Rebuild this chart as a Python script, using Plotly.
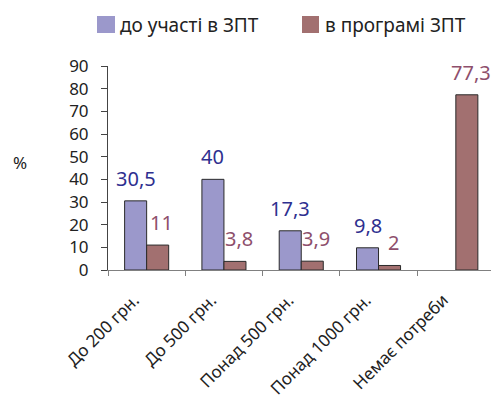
import plotly.graph_objects as go

# Categories and series values
categories = ["До 200 грн.", "До 500 грн.", "Понад 500 грн.", "Понад 1000 грн.", "Немає потреби"]
before_values = [30.5, 40, 17.3, 9.8, None]
during_values = [11, 3.8, 3.9, 2, 77.3]
series_names = ["до участі в ЗПТ", "в програмі ЗПТ"]

FONT = "Noto Sans"
W, H = 491, 396
ML, MR, MT, MB = 108, 0, 66, 126
BAR_FILL = ["#9B98CB", "#A27070"]
LABEL_COLOR = ["#2E2F8F", "#8E4F6C"]
LABEL_XSHIFT = [0, 4]
BARGAP = 0.43


def fmt(v):
    return f"{v:g}".replace(".", ",")


def px_x(px):
    return (px - ML) / (W - ML - MR)


def px_y(py):
    return (H - MB - py) / (H - MT - MB)


fig = go.Figure()
for vals, name, col in zip([before_values, during_values], series_names, BAR_FILL):
    fig.add_trace(go.Bar(
        x=categories, y=vals, name=name, showlegend=False,
        marker=dict(color=col, line=dict(color="#2a2a2a", width=1)),
    ))

# value labels above each bar
half = (1 - BARGAP) / 4
annotations = []
for k, vals in enumerate([before_values, during_values]):
    off = -half if k == 0 else half
    for i, v in enumerate(vals):
        if v is None:
            continue
        annotations.append(dict(
            x=i + off, y=v, xref="x", yref="y", text=fmt(v), showarrow=False,
            yanchor="bottom", xanchor="center", yshift=7, xshift=LABEL_XSHIFT[k],
            font=dict(family=FONT, size=20, color=LABEL_COLOR[k]),
        ))

# axis title "%"
annotations.append(dict(
    x=px_x(20), y=px_y(162), xref="paper", yref="paper", text="%", showarrow=False,
    xanchor="center", yanchor="middle", font=dict(family=FONT, size=17, color="#222"),
))

# legend drawn as swatches with text
shapes = []
legend_items = [(97, 115, 118), (302, 319, 323)]
for (sx0, sx1, tx), name, col in zip(legend_items, series_names, BAR_FILL):
    shapes.append(dict(
        type="rect", xref="paper", yref="paper",
        x0=px_x(sx0), x1=px_x(sx1), y0=px_y(33), y1=px_y(16),
        fillcolor=col, line=dict(width=0),
    ))
    annotations.append(dict(
        x=px_x(tx), y=px_y(25), xref="paper", yref="paper", text=name, showarrow=False,
        xanchor="left", yanchor="middle", font=dict(family=FONT, size=19, color="#222"),
    ))

# rotated category labels, padded at the end so they sit left of the tick
tick_text = [c + "\u00a0\u00a0\u00a0\u00a0" for c in categories]

fig.update_layout(
    width=W, height=H,
    margin=dict(l=ML, r=MR, t=MT, b=MB, pad=0),
    paper_bgcolor="white", plot_bgcolor="white",
    barmode="group", bargap=BARGAP, bargroupgap=0,
    font=dict(family=FONT, color="#222"),
    annotations=annotations, shapes=shapes,
    xaxis=dict(
        type="category", range=[-0.5, 4.455], automargin=False,
        tickmode="array", tickvals=categories, ticktext=tick_text,
        showline=True, linecolor="#808080", linewidth=1,
        ticks="outside", tickson="boundaries", ticklen=5, tickcolor="#808080",
        tickangle=-45, tickfont=dict(family=FONT, size=17, color="#222"),
        ticklabelstandoff=0,
        showgrid=False, zeroline=False,
    ),
    yaxis=dict(
        range=[0, 90], dtick=10, automargin=False,
        showline=True, linecolor="#444", linewidth=1,
        ticks="outside", ticklen=6, tickcolor="#444",
        tickfont=dict(family=FONT, size=17, color="#222"),
        ticklabelstandoff=9,
        showgrid=False, zeroline=False,
    ),
)

fig.write_html("out.html")
